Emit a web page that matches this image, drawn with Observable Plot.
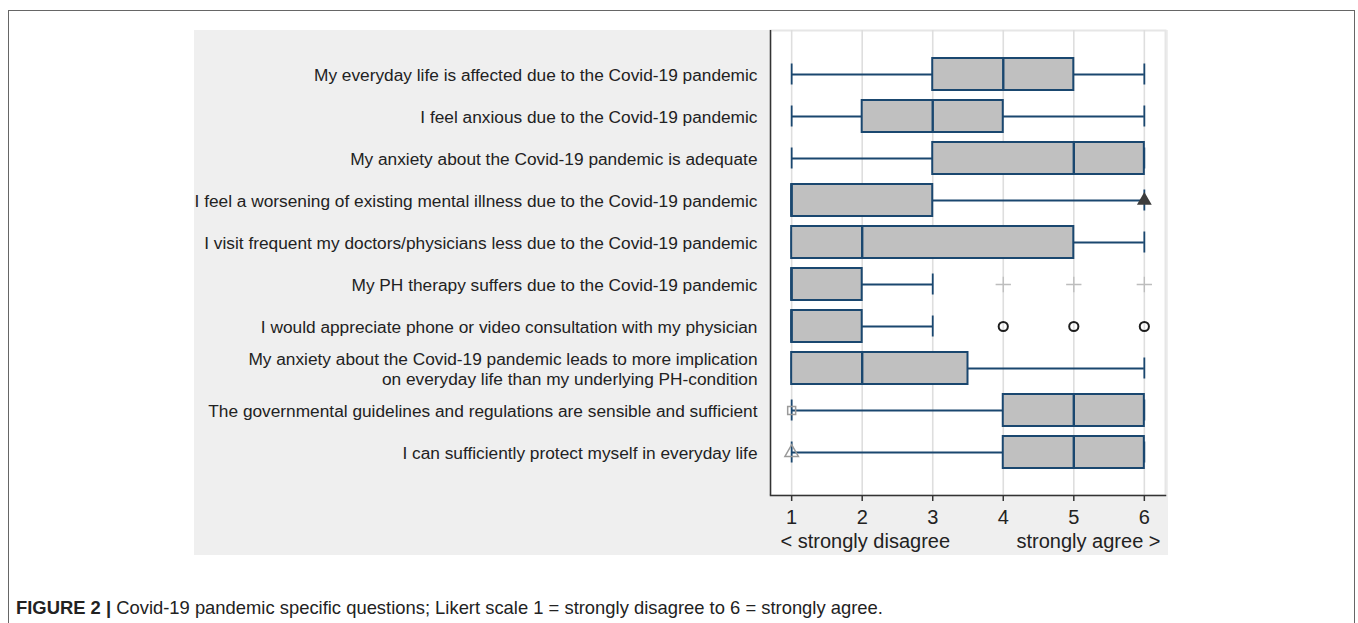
<!DOCTYPE html>
<html>
<head>
<meta charset="utf-8">
<script src="https://cdn.jsdelivr.net/npm/d3@7"></script>
<script src="https://cdn.jsdelivr.net/npm/@observablehq/plot@0.6"></script>
<style>
  html, body { margin: 0; padding: 0; background: #fff; }
  #page { position: relative; width: 1358px; height: 623px; overflow: hidden; font-family: "Liberation Sans", Arial, sans-serif; }
  #outer { position: absolute; left: 8px; top: 10px; width: 1347px; height: 700px; border: 1.5px solid #666; box-sizing: border-box; }
  #panel { position: absolute; left: 194px; top: 30px; width: 974px; height: 525px; background: #efefef; overflow: visible; }
  #panel svg { overflow: visible; }
  #caption { position: absolute; left: 16px; top: 597px; font-size: 18.4px; color: #222; white-space: nowrap; }
  #caption b { font-weight: bold; }
</style>
</head>
<body>
<div id="page">
  <div id="outer"></div>
  <div id="panel"></div>
  <div id="caption"><b>FIGURE 2 |</b> Covid-19 pandemic specific questions; Likert scale 1 = strongly disagree to 6 = strongly agree.</div>
</div>
<script>
const questions = [
  "My everyday life is affected due to the Covid-19 pandemic",
  "I feel anxious due to the Covid-19 pandemic",
  "My anxiety about the Covid-19 pandemic is adequate",
  "I feel a worsening of existing mental illness due to the Covid-19 pandemic",
  "I visit frequent my doctors/physicians less due to the Covid-19 pandemic",
  "My PH therapy suffers due to the Covid-19 pandemic",
  "I would appreciate phone or video consultation with my physician",
  "My anxiety about the Covid-19 pandemic leads to more implication\non everyday life than my underlying PH-condition",
  "The governmental guidelines and regulations are sensible and sufficient",
  "I can sufficiently protect myself in everyday life"
];
const lowerWhisker = [1, 1, 1, 1, 1, 1, 1, 1, 1, 1];
const q1 =           [3, 2, 3, 1, 1, 1, 1, 1, 4, 4];
const median =       [4, 3, 5, 1, 2, 1, 1, 2, 5, 5];
const q3 =           [5, 4, 6, 3, 5, 2, 2, 3.5, 6, 6];
const upperWhisker = [6, 6, 6, 6, 6, 3, 3, 6, 6, 6];

// outside values: question index and value
const outlierQuestion = [3, 5, 5, 5, 6, 6, 6, 8, 9];
const outlierValue =    [6, 4, 5, 6, 4, 5, 6, 1, 1];

const xTicks = [1, 2, 3, 4, 5, 6];
const leftAnchorLabel = "< strongly disagree";
const rightAnchorLabel = "strongly agree >";

const boxes = questions.map((q, i) => ({
  q, lo: lowerWhisker[i], q1: q1[i], med: median[i], q3: q3[i], hi: upperWhisker[i]
}));
const outliers = outlierQuestion.map((qi, i) => ({ q: questions[qi], qi, v: outlierValue[i] }));

const navy = "#1a476f";
const styleFor = {
  3: { symbol: "triangle", fill: "#3c3c3c", stroke: "none", r: 5.5, strokeWidth: 0 },
  5: { symbol: "plus", fill: "none", stroke: "#bdbdbd", r: 5, strokeWidth: 1.3 },
  6: { symbol: "circle", fill: "none", stroke: "#1e1e1e", r: 4.6, strokeWidth: 2 },
  8: { symbol: "square", fill: "none", stroke: "#9a9a9a", r: 4.5, strokeWidth: 1.5 },
  9: { symbol: "triangle", fill: "none", stroke: "#9a9a9a", r: 5, strokeWidth: 1.5 }
};
const outlierMarks = Object.keys(styleFor).map(k => {
  const s = styleFor[k];
  return Plot.dot(outliers.filter(d => d.qi === +k), {
    x: "v", y: "q", symbol: s.symbol, fill: s.fill, stroke: s.stroke, r: s.r, strokeWidth: s.strokeWidth
  });
});

const chart = Plot.plot({
  width: 974,
  height: 525,
  marginLeft: 576,
  marginRight: 3,
  marginTop: 0,
  marginBottom: 60,
  style: { fontFamily: "'Liberation Sans', Arial, sans-serif", background: "transparent", color: "#222", overflow: "visible" },
  x: { domain: [0.7, 6.3] },
  y: { domain: questions, paddingInner: 0.24, paddingOuter: 0.64 },
  marks: [
    Plot.frame({ fill: "white", stroke: "#e6e6e6", strokeWidth: 2 }),
    Plot.gridX(xTicks, { stroke: "#dedede", strokeOpacity: 1, strokeWidth: 1.6 }),
    Plot.ruleY(boxes, { y: "q", x1: "lo", x2: "hi", stroke: navy, strokeWidth: 1.8 }),
    Plot.tickX(boxes, { x: "lo", y: "q", stroke: navy, strokeWidth: 1.8, insetTop: 5.5, insetBottom: 5.5 }),
    Plot.tickX(boxes, { x: "hi", y: "q", stroke: navy, strokeWidth: 1.8, insetTop: 5.5, insetBottom: 5.5 }),
    Plot.barX(boxes, { y: "q", x1: "q1", x2: "q3", fill: "#c0c0c0", stroke: navy, strokeWidth: 2 }),
    Plot.tickX(boxes, { x: "med", y: "q", stroke: navy, strokeWidth: 2.4 }),
    ...outlierMarks,
    Plot.ruleX([0.7], { stroke: "#333", strokeWidth: 1.5 }),
    Plot.frame({ anchor: "bottom", stroke: "#333", strokeWidth: 1.5 }),
    Plot.axisY({ tickSize: 0, tickPadding: 13, fontSize: 17.3, lineHeight: 1.15, label: null, fill: "#222" }),
    Plot.axisX(xTicks, { tickSize: 6, tickPadding: 8, fontSize: 20, label: null, fill: "#222", stroke: "#333", strokeWidth: 1.5 }),
    Plot.text([leftAnchorLabel], { frameAnchor: "bottom-left", textAnchor: "start", dx: 10, dy: 52, fontSize: 20, fill: "#222" }),
    Plot.text([rightAnchorLabel], { frameAnchor: "bottom-right", textAnchor: "end", dx: -5, dy: 52, fontSize: 20, fill: "#222" })
  ]
});
document.getElementById("panel").appendChild(chart);
</script>
</body>
</html>
